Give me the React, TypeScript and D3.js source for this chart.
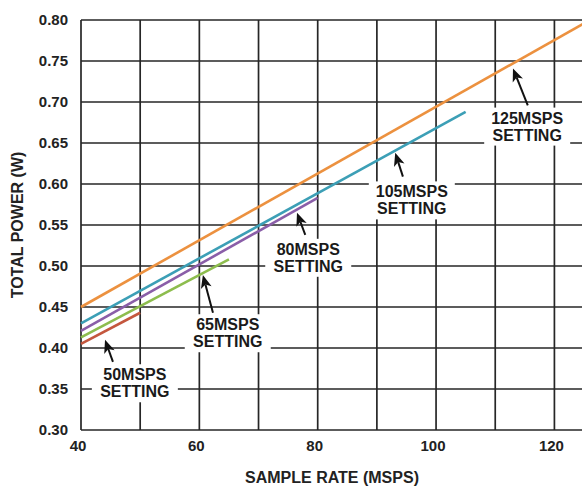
import React from "react";
import * as d3 from "d3";

const settings = ["50MSPS", "65MSPS", "80MSPS", "105MSPS", "125MSPS"];
const xStart = [40, 40, 40, 40, 40];
const xEnd = [50, 65, 80, 105, 125];
const yStart = [0.405, 0.413, 0.421, 0.43, 0.45];
const yEnd = [0.443, 0.508, 0.583, 0.688, 0.796];
const colors = ["#C4573E", "#8DBD4E", "#8A5EA8", "#3C9FB6", "#EC913F"];

// annotation label centers and arrows (data units)
const labelX = [49.1, 64.8, 78.4, 95.9, 115.4];
const labelY = [0.357, 0.418, 0.51, 0.58, 0.67];
const arrowTipX = [44.06, 60.6, 76.5, 93.1, 113.0];
const arrowTipY = [0.41, 0.489, 0.565, 0.638, 0.741];
const arrowTailX = [45.4, 62.3, 77.9, 94.4, 115.5];
const arrowTailY = [0.383, 0.443, 0.538, 0.609, 0.696];

const xTicks = [40, 60, 80, 100, 120];
const xGrid = [50, 60, 70, 80, 90, 100, 110, 120];
const yTicks = [0.3, 0.35, 0.4, 0.45, 0.5, 0.55, 0.6, 0.65, 0.7, 0.75, 0.8];

const W = 582;
const H = 487;
const FONT = "'Liberation Sans', Arial, sans-serif";

export default function App() {
  const x = d3.scaleLinear().domain([40, 125]).range([81, 584]);
  const y = d3.scaleLinear().domain([0.3, 0.8]).range([430, 20]);
  const gridColor = "#262626";
  const line = d3.line<[number, number]>().x((d) => x(d[0])).y((d) => y(d[1]));

  return (
    <svg
      width={W}
      height={H}
      style={{ position: "absolute", left: 0, top: 0, background: "#fff" }}
      fontFamily={FONT}
    >
      <rect x={0} y={0} width={W} height={H} fill="#fff" />
      {yTicks.map((t) => (
        <line key={"h" + t} x1={x(40)} x2={x(125)} y1={y(t)} y2={y(t)} stroke={gridColor} strokeWidth={1.7} />
      ))}
      {[40, ...xGrid].map((t) => (
        <line key={"v" + t} x1={x(t)} x2={x(t)} y1={y(0.8)} y2={y(0.3)} stroke={gridColor} strokeWidth={1.7} />
      ))}
      {settings.map((s, i) => (
        <path
          key={s}
          d={line([[xStart[i], yStart[i]], [xEnd[i], yEnd[i]]]) || ""}
          stroke={colors[i]}
          strokeWidth={2.6}
          fill="none"
        />
      ))}
      {settings.map((s, i) => {
        const cx = x(labelX[i]);
        const cy = y(labelY[i]);
        const w = 86;
        const tx = x(arrowTipX[i]);
        const ty = y(arrowTipY[i]);
        const sx = x(arrowTailX[i]);
        const sy = y(arrowTailY[i]);
        const ang = Math.atan2(ty - sy, tx - sx);
        const hl = 13;
        const hw = 5.5;
        const bx = tx - hl * Math.cos(ang);
        const by = ty - hl * Math.sin(ang);
        const px = -Math.sin(ang);
        const py = Math.cos(ang);
        const ix = tx - hl * 0.75 * Math.cos(ang);
        const iy = ty - hl * 0.75 * Math.sin(ang);
        const head = `M${tx},${ty} L${bx + px * hw},${by + py * hw} L${ix},${iy} L${bx - px * hw},${by - py * hw} Z`;
        return (
          <g key={"a" + s}>
            <rect x={cx - w / 2} y={cy - 19} width={w} height={38} fill="#fff" />
            <line x1={sx} y1={sy} x2={ix} y2={iy} stroke="#111" strokeWidth={2} />
            <path d={head} fill="#111" />
            <text x={cx} y={cy - 3} textAnchor="middle" fontSize={16} fontWeight="bold" fill="#1a1a1a">
              {s}
            </text>
            <text x={cx} y={cy + 14} textAnchor="middle" fontSize={16} fontWeight="bold" fill="#1a1a1a">
              SETTING
            </text>
          </g>
        );
      })}
      {yTicks.map((t) => (
        <text key={"yl" + t} x={68} y={y(t) + 5} textAnchor="end" fontSize={15} fontWeight="bold" fill="#222">
          {t.toFixed(2)}
        </text>
      ))}
      {xTicks.map((t) => (
        <text key={"xl" + t} x={x(t) - 3} y={451} textAnchor="middle" fontSize={15} fontWeight="bold" fill="#222">
          {t}
        </text>
      ))}
      <text x={332} y={483} textAnchor="middle" fontSize={16} fontWeight="bold" fill="#222">
        SAMPLE RATE (MSPS)
      </text>
      <text
        transform={`translate(23,${(y(0.8) + y(0.3)) / 2}) rotate(-90)`}
        textAnchor="middle"
        fontSize={16}
        fontWeight="bold"
        fill="#222"
      >
        TOTAL POWER (W)
      </text>
    </svg>
  );
}
